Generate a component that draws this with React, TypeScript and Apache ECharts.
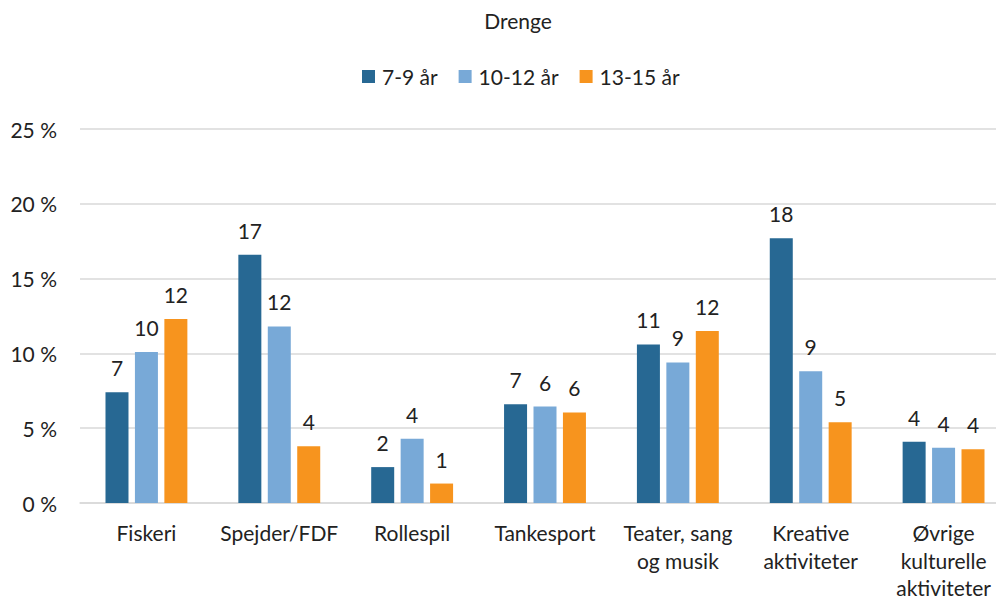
import React, { useEffect, useRef } from "react";
import * as echarts from "echarts";

const categories = [
  "Fiskeri",
  "Spejder/FDF",
  "Rollespil",
  "Tankesport",
  "Teater, sang\nog musik",
  "Kreative\naktiviteter",
  "Øvrige\nkulturelle\naktiviteter",
];
const seriesNames = ["7-9 år", "10-12 år", "13-15 år"];
const age7to9 = [7.4, 16.6, 2.4, 6.6, 10.6, 17.7, 4.1];
const age10to12 = [10.1, 11.8, 4.3, 6.45, 9.4, 8.8, 3.7];
const age13to15 = [12.3, 3.8, 1.3, 6.05, 11.5, 5.4, 3.6];
const colors = ["#276893", "#78a9d7", "#f7941e"];
const FONT = "Lato";

export default function App() {
  const ref = useRef<HTMLDivElement>(null);
  useEffect(() => {
    if (!ref.current) return;
    const chart = echarts.init(ref.current, null, { renderer: "svg" });
    const data = [age7to9, age10to12, age13to15];
    chart.setOption({
      animation: false,
      textStyle: { fontFamily: FONT },
      title: {
        text: "Drenge",
        left: 513,
        top: 5,
        textAlign: "center",
        textStyle: { fontFamily: FONT, fontSize: 21, fontWeight: "normal", color: "#222" },
      },
      legend: {
        top: 61,
        left: 357,
        itemWidth: 13,
        itemHeight: 13,
        itemGap: 21,
        icon: "rect",
        textStyle: { fontFamily: FONT, fontSize: 21, color: "#222", padding: [0, 0, 0, 2] },
        data: seriesNames,
      },
      grid: { left: 80, right: 0, top: 129, bottom: 99, containLabel: false },
      xAxis: {
        type: "category",
        data: categories,
        axisTick: { show: false },
        axisLine: { lineStyle: { color: "#d9d9d9", width: 1.5 } },
        axisLabel: {
          fontFamily: FONT,
          fontSize: 21,
          color: "#222",
          lineHeight: 27.5,
          margin: 16,
          interval: 0,
        },
      },
      yAxis: {
        type: "value",
        min: 0,
        max: 25,
        interval: 5,
        axisLabel: {
          fontFamily: FONT,
          fontSize: 21,
          color: "#222",
          margin: 23,
          formatter: (v: number) => `${v} %`,
        },
        splitLine: { lineStyle: { color: "#d9d9d9", width: 1.5 } },
        axisLine: { show: false },
        axisTick: { show: false },
      },
      series: seriesNames.map((name, i) => ({
        name,
        type: "bar",
        data: data[i],
        barWidth: 23,
        barGap: "28%",
        itemStyle: { color: colors[i] },
        label: {
          show: true,
          position: "top",
          distance: 14,
          fontFamily: FONT,
          fontSize: 21,
          color: "#222",
          formatter: (p: any) => `${Math.round(p.value)}`,
        },
      })),
    });
    return () => chart.dispose();
  }, []);
  return (
    <div
      style={{
        position: "fixed",
        left: 0,
        top: 0,
        width: 996,
        height: 602,
        overflow: "hidden",
        background: "#fff",
      }}
    >
      <div ref={ref} style={{ width: 1010, height: 602 }} />
    </div>
  );
}
